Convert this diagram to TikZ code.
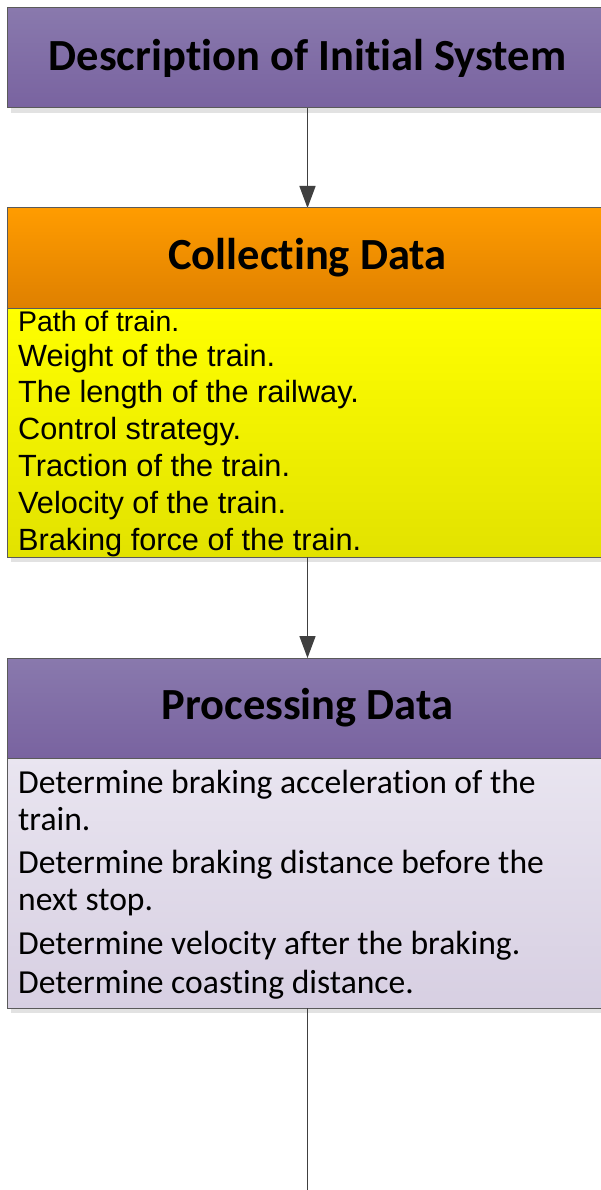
\documentclass[tikz,border=0pt]{standalone}
\usepackage{fontspec}
\setmainfont[Ligatures=NoCommon]{Carlito}
\newfontfamily\arialfont{Liberation Sans}
\usetikzlibrary{arrows.meta,shadows}

\definecolor{purpleTop}{HTML}{8979AD}
\definecolor{purpleBot}{HTML}{7963A0}
\definecolor{orangeTop}{HTML}{FF9C00}
\definecolor{orangeBot}{HTML}{DF8000}
\definecolor{yellowTop}{HTML}{FFFF00}
\definecolor{yellowBot}{HTML}{E2E200}
\definecolor{lavTop}{HTML}{E9E5F0}
\definecolor{lavBot}{HTML}{D7CFE2}
\definecolor{edge}{HTML}{5A5A5A}
\definecolor{shade}{HTML}{E2E2E2}
\definecolor{conn}{HTML}{404040}

\begin{document}
\begin{tikzpicture}[x=1pt,y=-1pt,
  panel/.style={rectangle, draw=edge, line width=1pt, minimum width=601pt,
    inner sep=0pt, outer sep=0pt,
    general shadow={fill=shade, shadow xshift=4pt, shadow yshift=-5pt}},
  header/.style={panel, minimum height=100pt,
    font=\fontsize{44.5}{52}\selectfont\bfseries},
  listbox/.style={panel, minimum height=#1},
  ytext/.style={anchor=base west, inner sep=0pt,
    font=\arialfont\fontsize{30.7}{36}\selectfont},
  ptext/.style={anchor=base west, inner sep=0pt,
    font=\fontsize{33.6}{40}\selectfont},
  link/.style={draw=conn, line width=1.3pt},
  linkshadow/.style={draw=shade, line width=1.3pt, xshift=3pt, yshift=-3pt},
  tip/.style={-{Triangle[length=22pt,width=16pt]}}
]
\useasboundingbox (0,0) rectangle (601,1190);
\clip (0,0) rectangle (601,1190);

% stage headers and their item lists
\node[header, top color=purpleTop, bottom color=purpleBot] (desc) at (307.5,58)
  {Description of Initial System};
\node[header, top color=orangeTop, bottom color=orangeBot] (collect) at (307.5,258)
  {Collecting Data};
\node[listbox=249pt, top color=yellowTop, bottom color=yellowBot] (ylist) at (307.5,432.5) {};
\node[header, top color=purpleTop, bottom color=purpleBot] (proc) at (307.5,708)
  {Processing Data};
\node[listbox=250pt, top color=lavTop, bottom color=lavBot] (plist) at (307.5,883) {};

% data collected
\node[ytext, font=\arialfont\fontsize{28.4}{34}\selectfont] (y1) at (18,331.5) {Path of train.};
\node[ytext] (y2) at (18,366)   {Weight of the train.};
\node[ytext] (y3) at (18,402.9) {The length of the railway.};
\node[ytext] (y4) at (18,439.8) {Control strategy.};
\node[ytext] (y5) at (18,476.7) {Traction of the train.};
\node[ytext] (y6) at (18,513.6) {Velocity of the train.};
\node[ytext] (y7) at (18,550.5) {Braking force of the train.};

% processing steps
\node[ptext] (p1) at (18,793)   {Determine braking acceleration of the};
\node[ptext] (p2) at (18,830)   {train.};
\node[ptext] (p3) at (18,873.5) {Determine braking distance before the};
\node[ptext] (p4) at (18,910)   {next stop.};
\node[ptext] (p5) at (18,954)   {Determine velocity after the braking.};
\node[ptext] (p6) at (18,993.5) {Determine coasting distance.};

% connectors, each with a faint offset shadow
\coordinate (tail) at (307.5,1200);
\path[linkshadow, tip] (desc.south) -- (collect.north);
\path[linkshadow, tip] (ylist.south) -- (proc.north);
\path[linkshadow] (plist.south) -- (tail);
\path[link, tip] (desc.south) -- (collect.north);
\path[link, tip] (ylist.south) -- (proc.north);
\path[link] (plist.south) -- (tail);
\end{tikzpicture}
\end{document}
